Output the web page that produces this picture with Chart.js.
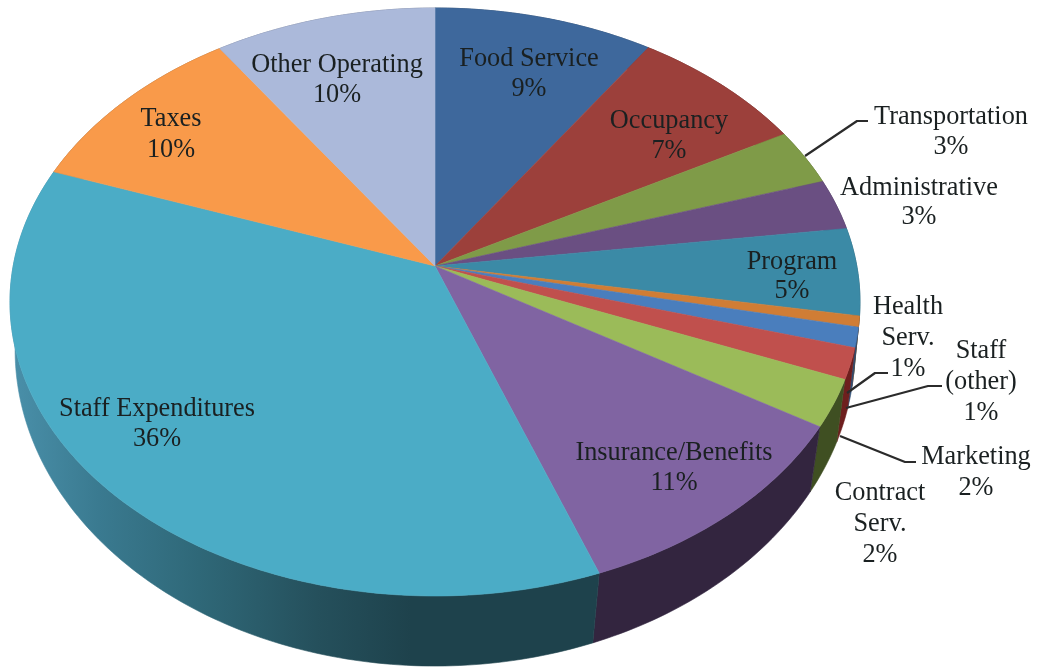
<!DOCTYPE html>
<html>
<head>
<meta charset="utf-8">
<title>Expenditures</title>
<script src="https://cdn.jsdelivr.net/npm/chart.js@4"></script>
<style>
    html, body { margin: 0; padding: 0; background: #fff; }
    canvas { display: block; filter: blur(0.5px); }
</style>
</head>
<body>
<canvas id="pie" width="1038" height="669"></canvas>
<script>
// Data, clockwise from 12 o'clock. Slice sizes are read off the picture,
// shownPercents are the rounded figures printed next to them.
const categories = ['Food Service', 'Occupancy', 'Transportation', 'Administrative', 'Program',
    'Health Serv.', 'Staff (other)', 'Marketing', 'Contract Serv.', 'Insurance/Benefits',
    'Staff Expenditures', 'Taxes', 'Other Operating'];
const values = [9.4, 7.6, 3.1, 2.8, 4.8, 0.6, 1.1, 1.7, 2.6, 10.7, 36.1, 10.0, 9.5];
const shownPercents = ['9%', '7%', '3%', '3%', '5%', '1%', '1%', '2%', '2%', '11%', '36%', '10%', '10%'];

const topColors = ['#3e689c', '#9c403b', '#7f9b48', '#6a4f82', '#3b8aa6', '#d07d35', '#4a7ebd',
    '#c0504d', '#9bbb59', '#8064a2', '#4bacc6', '#f99a4a', '#abb9da'];
const wallColors = ['#26405f', '#5f2725', '#4d5e2c', '#40304f', '#245465', '#7e4c20', '#2d4d73',
    '#6e1f1e', '#3f4f22', '#33253f', null, '#975d2d', '#687085'];

// Label placement: centre of each text line, and the leader lines
const labelSpots = [
    { lines: ['Food Service'], x: 529, y: 59, gap: 30 },
    { lines: ['Occupancy'], x: 669, y: 121, gap: 30 },
    { lines: ['Transportation'], x: 951, y: 117, gap: 30 },
    { lines: ['Administrative'], x: 919, y: 188, gap: 29 },
    { lines: ['Program'], x: 792, y: 262, gap: 29 },
    { lines: ['Health', 'Serv.'], x: 908, y: 307, gap: 31 },
    { lines: ['Staff', '(other)'], x: 981, y: 351, gap: 31 },
    { lines: ['Marketing'], x: 976, y: 457, gap: 31 },
    { lines: ['Contract', 'Serv.'], x: 880, y: 493, gap: 31 },
    { lines: ['Insurance/Benefits'], x: 674, y: 453, gap: 30 },
    { lines: ['Staff Expenditures'], x: 157, y: 409, gap: 30 },
    { lines: ['Taxes'], x: 171, y: 119, gap: 31 },
    { lines: ['Other Operating'], x: 337, y: 65, gap: 30 }
];
const leaders = [
    [[805, 156], [857, 121], [868, 121]],
    [[847, 393], [875, 373], [888, 373]],
    [[846, 408], [928, 386], [942, 386]],
    [[840, 436], [905, 462], [916, 462]]
];

// Perspective of the disc: circle -> ellipse with the apex above the ellipse centre.
// The lower rim is a deeper ellipse and its slice corners lean in towards the front.
const view = { cx: 435, cy: 266, a: 421.8, b: 289.6, k: -0.1224, midY: 302, wallMidY: 350, wallX: 0.988, wallY: 1.075, lean: 0.03 };

function topPoint(angle) {
    const d = 1 + view.k * Math.sin(angle);
    return [view.cx + view.a * Math.cos(angle) / d, view.cy + view.b * Math.sin(angle) / d];
}

function wallPoint(angle) {
    const p = topPoint(angle + view.lean * Math.cos(angle));
    return [view.cx + (p[0] - view.cx) * view.wallX, view.wallMidY + (p[1] - view.midY) * view.wallY];
}

function arcPoints(arc, mapper) {
    const steps = Math.max(4, Math.ceil((arc.endAngle - arc.startAngle) * 60));
    const pts = [];
    for (let i = 0; i <= steps; i++) {
        pts.push(mapper(arc.startAngle + (arc.endAngle - arc.startAngle) * i / steps));
    }
    return pts;
}

function tracePolygon(ctx, pts) {
    ctx.beginPath();
    pts.forEach((p, i) => i ? ctx.lineTo(p[0], p[1]) : ctx.moveTo(p[0], p[1]));
    ctx.closePath();
}

const pie3d = {
    id: 'pie3d',
    beforeDatasetsDraw(chart) {
        const ctx = chart.ctx;
        const arcs = chart.getDatasetMeta(0).data;

        const staffWall = ctx.createLinearGradient(10, 0, 600, 0);
        staffWall.addColorStop(0, '#4a90aa');
        staffWall.addColorStop(0.15, '#3a7a90');
        staffWall.addColorStop(0.32, '#2f6878');
        staffWall.addColorStop(0.52, '#25505c');
        staffWall.addColorStop(0.68, '#1e424c');
        staffWall.addColorStop(1, '#1e424c');

        // side wall first, the top face hides the back half of it
        arcs.forEach((arc, i) => {
            const pts = arcPoints(arc, topPoint).concat(arcPoints(arc, wallPoint).reverse());
            const fill = wallColors[i] || staffWall;
            tracePolygon(ctx, pts);
            ctx.fillStyle = fill;
            ctx.strokeStyle = fill;
            ctx.lineWidth = 0.6;
            ctx.fill();
            ctx.stroke();
        });

        arcs.forEach(arc => {
            const pts = [[view.cx, view.cy]].concat(arcPoints(arc, topPoint));
            tracePolygon(ctx, pts);
            ctx.fillStyle = arc.options.backgroundColor;
            ctx.strokeStyle = arc.options.backgroundColor;
            ctx.lineWidth = 0.6;
            ctx.fill();
            ctx.stroke();
        });
        return false;
    },
    afterDraw(chart) {
        const ctx = chart.ctx;
        ctx.save();
        ctx.strokeStyle = '#2b2b2b';
        ctx.lineWidth = 2.2;
        ctx.lineJoin = 'round';
        leaders.forEach(line => {
            ctx.beginPath();
            line.forEach((p, i) => i ? ctx.lineTo(p[0], p[1]) : ctx.moveTo(p[0], p[1]));
            ctx.stroke();
        });

        ctx.font = '26.3px "Liberation Serif"';
        ctx.fillStyle = '#1a2021';
        ctx.textAlign = 'center';
        ctx.textBaseline = 'middle';
        labelSpots.forEach((spot, i) => {
            const lines = spot.lines.concat(shownPercents[i]);
            lines.forEach((text, n) => ctx.fillText(text, spot.x, spot.y + n * spot.gap));
        });
        ctx.restore();
    }
};

new Chart(document.getElementById('pie'), {
    type: 'pie',
    data: {
        labels: categories,
        datasets: [{ data: values, backgroundColor: topColors, borderWidth: 0 }]
    },
    options: {
        responsive: false,
        animation: false,
        layout: { padding: 0 },
        plugins: {
            legend: { display: false },
            tooltip: { enabled: false }
        }
    },
    plugins: [pie3d]
});
</script>
</body>
</html>
